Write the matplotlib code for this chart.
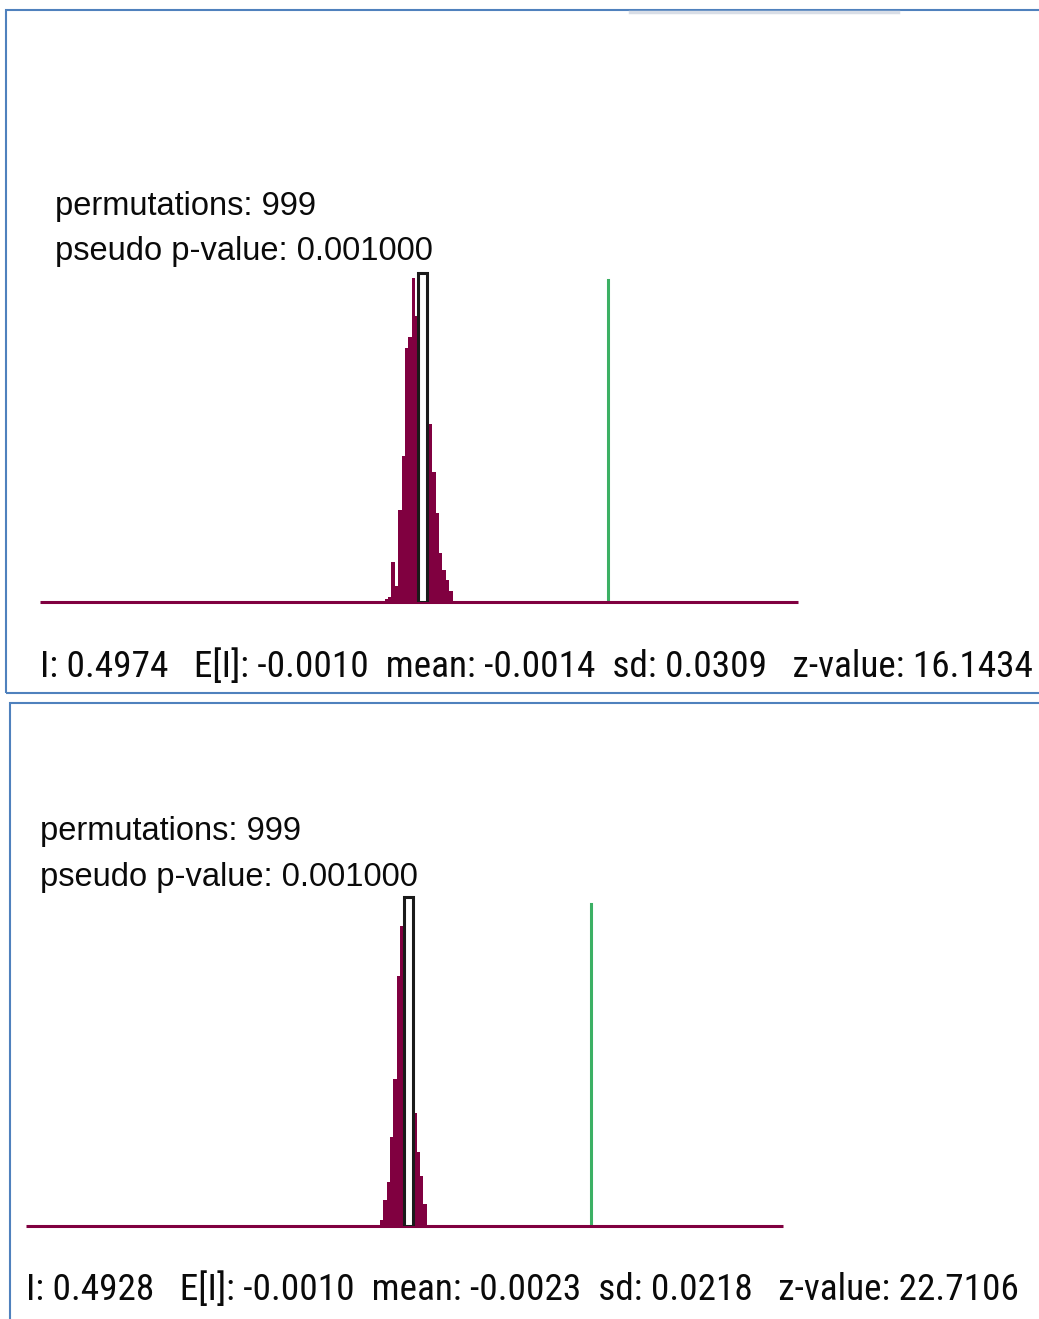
import matplotlib
matplotlib.use("Agg")
import matplotlib.pyplot as plt
from matplotlib.patches import Rectangle
from matplotlib.lines import Line2D
from matplotlib import font_manager

W, H = 1039, 1319

## permutation histograms (counts per bin)
perm1_counts = [1, 2, 15, 6, 34, 54, 94, 98, 120, 106, 111, 96, 73, 66, 48, 33, 18, 12, 8, 4]
perm1_bin_start = -0.1028
perm1_bin_width = 0.00913
perm1_stats = dict(I=0.4974, EI=-0.0010, mean=-0.0014, sd=0.0309, z=16.1434, perms=999, p=0.001000)

perm2_counts = [3, 13, 22, 45, 74, 126, 151, 163, 161, 111, 57, 37, 25, 11]
perm2_bin_start = -0.0781
perm2_bin_width = 0.00901
perm2_stats = dict(I=0.4928, EI=-0.0010, mean=-0.0023, sd=0.0218, z=22.7106, perms=999, p=0.001000)

bar_col = '#800040'
green = '#3cb064'
frame_col = '#4f81bd'
ftop = 23.5   # font size of permutations text

# narrow font for the stats line if there is one
names = set(f.name for f in font_manager.fontManager.ttflist)
narrow = 'Liberation Sans'
for cand in ['Liberation Sans Narrow', 'Roboto Condensed', 'Open Sans Condensed', 'DejaVu Sans Condensed']:
    if cand in names:
        narrow = cand
        break

fig = plt.figure(figsize=(W / 100, H / 100), dpi=100)
bottom_texts = []


def fx(x):
    return x / W


def fy(y):
    return 1 - y / H


def draw_panel(box, xlim, counts, start, width, st, txt_x, txt_y, bot_x, bot_y, bot_w):
    left, right, bottom, top = box
    ax = fig.add_axes([fx(left), fy(bottom), (right - left) / W, (bottom - top) / H])
    ax.set_xlim(xlim)
    ymax = max(counts)
    ax.set_ylim(0, (bottom - top) / ((bottom - top - 16) / ymax))
    ax.axis('off')
    lefts = [start + i * width for i in range(len(counts))]
    ax.bar(lefts, counts, width=width, align='edge', color=bar_col, linewidth=0, zorder=2)
    ax.axhline(0, color=bar_col, lw=2.2, zorder=3, clip_on=False, solid_capstyle='butt')
    # observed I
    ax.plot([st['I'], st['I']], [0, ymax * 0.995], color=green, lw=2.2, zorder=2)
    # expected value marker bin
    ax.bar(st['EI'], ymax * 1.015, width=0.0235, align='center', color='white',
           edgecolor='#1a1a1a', linewidth=2.2, zorder=4)

    fig.text(fx(txt_x), fy(txt_y[0]), 'permutations: %d' % st['perms'],
             fontsize=ftop, family='Liberation Sans', color='#0a0a0a', va='baseline')
    fig.text(fx(txt_x), fy(txt_y[1]), 'pseudo p-value: %.6f' % st['p'],
             fontsize=ftop, family='Liberation Sans', color='#0a0a0a', va='baseline')
    line = 'I: %.4f   E[I]: %.4f  mean: %.4f  sd: %.4f   z-value: %.4f' % (
        st['I'], st['EI'], st['mean'], st['sd'], st['z'])
    t = fig.text(fx(bot_x), fy(bot_y), line, fontsize=22,
                 family=narrow, color='#0a0a0a', va='baseline')
    bottom_texts.append((t, bot_w))


# panel frames
fig.add_artist(Rectangle((fx(6), fy(693)), (1050 - 6) / W, (693 - 10) / H,
                         fill=False, edgecolor=frame_col, lw=1.5, transform=fig.transFigure))
fig.add_artist(Rectangle((fx(10), fy(1330)), (1050 - 10) / W, (1330 - 703) / H,
                         fill=False, edgecolor=frame_col, lw=1.5, transform=fig.transFigure))
fig.add_artist(Line2D([fx(630), fx(898)], [fy(12), fy(12)], color='#d8dde6', lw=2.5,
                      transform=fig.transFigure))

draw_panel((40, 798, 602, 262), (-1.0287, 1.0079), perm1_counts, perm1_bin_start,
           perm1_bin_width, perm1_stats, 55, (215, 260), 40, 677, 995)
draw_panel((26, 783, 1226, 886), (-1.0359, 1.0123), perm2_counts, perm2_bin_start,
           perm2_bin_width, perm2_stats, 40, (840, 886), 26, 1300, 994)

# squeeze the stats lines to the width they have in the screenshot
fig.canvas.draw()
rend = fig.canvas.get_renderer()
for t, w in bottom_texts:
    cur = t.get_window_extent(rend).width
    t.set_fontsize(t.get_fontsize() * w / cur)

plt.savefig('out.png', dpi=100)
